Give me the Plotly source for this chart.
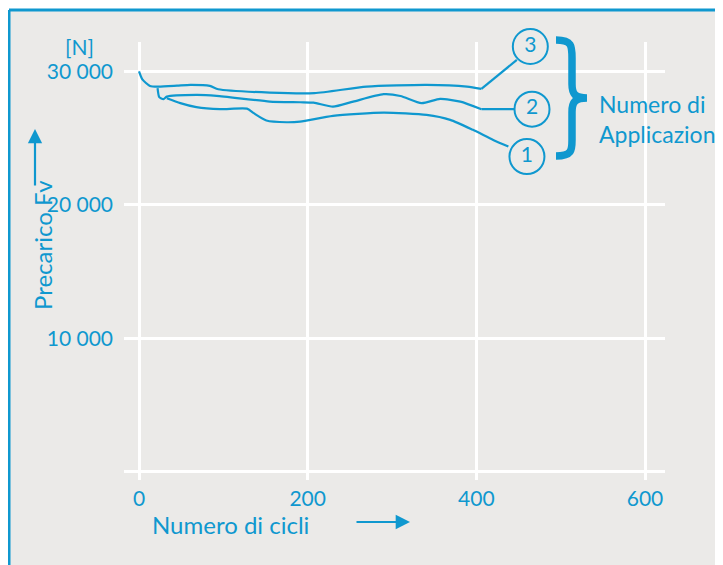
import plotly.graph_objects as go

# ---- data ----
cycles_3 = [0, 4, 13, 23, 45, 61, 84, 94, 155, 208, 270, 341, 389, 406, 428, 448]
force_3 = [30000, 29400, 28910, 28860, 28930, 28990, 28910, 28660, 28410, 28370, 28860, 28990, 28860, 28690, 29860, 30860]

cycles_2 = [22, 24, 29, 33, 68, 92, 155, 191, 207, 230, 254, 290, 310, 335, 357, 381, 406, 446]
force_2 = [28740, 28070, 27920, 28110, 28240, 28170, 27740, 27690, 27660, 27360, 27740, 28290, 28160, 27620, 27940, 27740, 27170, 27170]

cycles_1 = [33, 49, 68, 96, 128, 136, 151, 175, 191, 230, 290, 341, 369, 396, 420, 438]
force_1 = [27990, 27620, 27320, 27170, 27210, 26870, 26320, 26190, 26240, 26670, 26910, 26740, 26370, 25620, 24870, 24370]

label_names = ["1", "2", "3"]
label_cycles = [460, 466, 464]
label_force = [23620, 27170, 31860]

x_ticks = [0, 200, 400, 600]
y_ticks = [0, 10000, 20000, 30000]
y_tick_text = ["", "10 000", "20 000", "30 000"]

BLUE = "#0f98cf"
BG = "#ebeae8"
FONT = "Lato"

fig = go.Figure()
line_style = dict(color=BLUE, width=2.2)
# curved parts (spline) and straight leader parts (linear) of each curve
for cx, fy, k in [(cycles_3, force_3, 13), (cycles_2, force_2, 16), (cycles_1, force_1, None)]:
    if k is None:
        fig.add_trace(go.Scatter(x=cx, y=fy, mode="lines",
                                 line=dict(**line_style, shape="spline", smoothing=0.6),
                                 hoverinfo="skip", cliponaxis=False))
    else:
        fig.add_trace(go.Scatter(x=cx[:k + 1], y=fy[:k + 1], mode="lines",
                                 line=dict(**line_style, shape="spline", smoothing=0.6),
                                 hoverinfo="skip", cliponaxis=False))
        fig.add_trace(go.Scatter(x=cx[k:], y=fy[k:], mode="lines",
                                 line=dict(**line_style, shape="linear"),
                                 hoverinfo="skip", cliponaxis=False))

fig.add_trace(go.Scatter(x=label_cycles, y=label_force, mode="markers+text",
                         text=label_names, textposition="middle center",
                         textfont=dict(family=FONT, size=21, color=BLUE),
                         marker=dict(size=35, color=BG, line=dict(color=BLUE, width=2)),
                         cliponaxis=False, hoverinfo="skip"))

# plot area in page pixels (page has 8px body margin)
L, T = 124, 42
W, H = 541, 438
FIG_W, FIG_H = 715, 557

def px(x):
    return (x - L) / W

def py(y):
    return (T + H - y) / H

shapes = [
    dict(type="rect", xref="paper", yref="paper", x0=px(9), x1=px(760), y0=py(10), y1=py(600),
         fillcolor=BG, line=dict(width=0), layer="below"),
    dict(type="line", xref="paper", yref="paper", x0=px(9), x1=px(760), y0=py(10), y1=py(10),
         line=dict(color=BLUE, width=3)),
    dict(type="line", xref="paper", yref="paper", x0=px(9), x1=px(9), y0=py(10), y1=py(600),
         line=dict(color=BLUE, width=3)),
    # curly brace
    dict(type="path", xref="paper", yref="paper",
         path=("M {a},{b} C {c},{b} {d},{e} {d},{f} L {d},{g} C {d},{h} {i},{j} {k},{j} "
               "C {i},{j} {d},{l} {d},{m} L {d},{n} C {d},{o} {c},{p} {a},{p}").format(
             a=px(556), b=py(40), c=px(572), d=px(572), e=py(46), f=py(58),
             g=py(84), h=py(94), i=px(575), j=py(98), k=px(587),
             l=py(102), m=py(112), n=py(140), o=py(150), p=py(156)),
         line=dict(color=BLUE, width=7.5)),
]

annotations = [
    dict(text="[N]", xref="paper", yref="paper", x=px(79), y=py(46), showarrow=False,
         font=dict(family=FONT, size=21, color=BLUE), xanchor="center", yanchor="middle"),
    dict(text="Numero di<br>Applicazioni", xref="paper", yref="paper", x=px(597), y=py(119),
         showarrow=False, align="left", xanchor="left", yanchor="middle",
         font=dict(family=FONT, size=23, color=BLUE)),
    dict(text="Numero di cicli", xref="paper", yref="paper", x=px(150), y=py(524),
         showarrow=False, xanchor="left", yanchor="middle",
         font=dict(family=FONT, size=24, color=BLUE)),
    dict(text="", xref="paper", yref="paper", x=px(410), y=py(522), ax=-55, ay=0,
         showarrow=True, arrowhead=2, arrowsize=1.3, arrowwidth=2.2, arrowcolor=BLUE),
    dict(text="Precarico Fv", xref="paper", yref="paper", x=px(42), y=py(245),
         showarrow=False, textangle=-90, xanchor="center", yanchor="middle",
         font=dict(family=FONT, size=24, color=BLUE)),
    dict(text="", xref="paper", yref="paper", x=px(35), y=py(129), ax=0, ay=58,
         showarrow=True, arrowhead=2, arrowsize=1.3, arrowwidth=2.2, arrowcolor=BLUE),
]

fig.update_layout(
    width=FIG_W, height=FIG_H,
    margin=dict(l=L - 8, r=FIG_W - (L - 8) - W, t=T - 8, b=FIG_H - (T - 8) - H),
    paper_bgcolor="white", plot_bgcolor=BG,
    showlegend=False,
    shapes=shapes, annotations=annotations,
    font=dict(family=FONT, color=BLUE),
)
fig.update_xaxes(range=[-17.8, 623.7], tickvals=x_ticks, showgrid=True, gridcolor="white",
                 gridwidth=2.5, zeroline=False, showline=False, ticks="",
                 tickfont=dict(family=FONT, size=21, color=BLUE), ticklabelstandoff=4)
fig.update_yaxes(range=[-600, 32200], tickvals=y_ticks, ticktext=y_tick_text, showgrid=True,
                 gridcolor="white", gridwidth=2.5, zeroline=False, showline=False, ticks="",
                 tickfont=dict(family=FONT, size=21, color=BLUE), ticklabelstandoff=10)

fig.write_html("out.html")
